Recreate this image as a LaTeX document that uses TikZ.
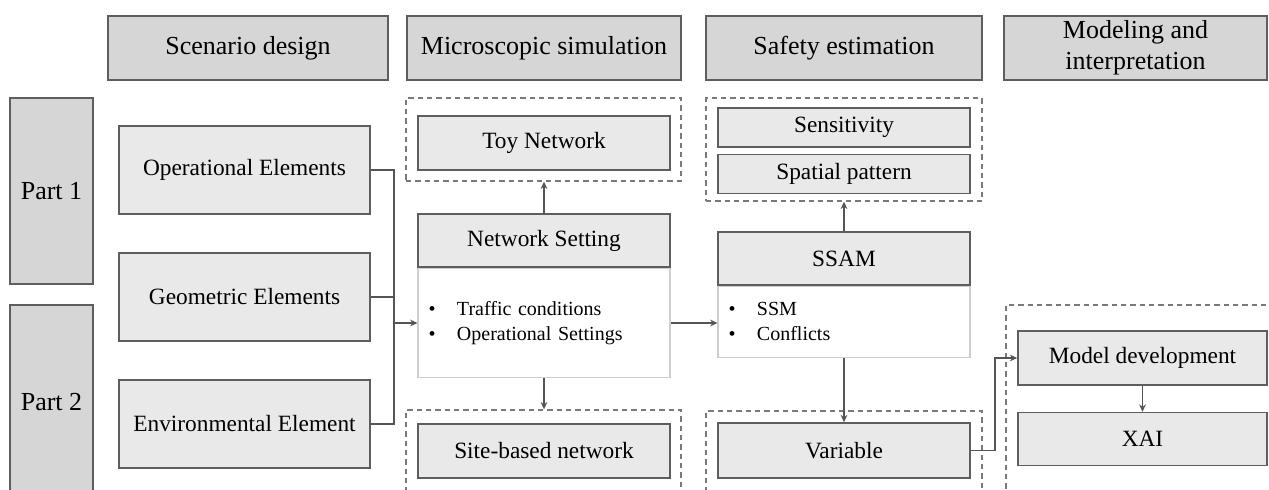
\documentclass[tikz,border=0pt]{standalone}
\usepackage{fontspec}
\setmainfont{Liberation Serif}
\usetikzlibrary{positioning,fit,arrows.meta}
\definecolor{headgray}{HTML}{D6D6D6}
\definecolor{boxgray}{HTML}{E9E9E9}
\definecolor{edgegray}{HTML}{5E5E5E}
\definecolor{thingray}{HTML}{CFCFCF}
\definecolor{dashgray}{HTML}{7A7A7A}
\definecolor{linkgray}{HTML}{555555}

\begin{document}
\begin{tikzpicture}[
    x=0.75pt, y=-0.75pt,
    node distance=0pt,
    >={Stealth[length=5.5pt,width=5pt]},
    head/.style={draw=edgegray, fill=headgray, line width=1.2pt, align=center, minimum height=48pt, font=\fontsize{19.5}{23}\selectfont},
    part/.style={draw=edgegray, fill=headgray, line width=1.2pt, minimum width=62.25pt, font=\fontsize{19.5}{23}\selectfont},
    box/.style={draw=edgegray, fill=boxgray, line width=1.2pt, minimum width=189pt, font=\fontsize{17.5}{21}\selectfont},
    body/.style={draw=thingray, fill=white, line width=0.8pt, minimum width=189pt, text width=173pt, inner xsep=8pt, align=left, font=\fontsize{15}{18.75}\selectfont},
    group/.style={draw=dashgray, dash pattern=on 4pt off 3pt, line width=1pt, inner sep=0pt},
    link/.style={draw=linkgray, line width=1.1pt}
]
\useasboundingbox (0,0) rectangle (1269,489);
\clip (0,0) rectangle (1269,489);

\node[head, minimum width=210pt] (scen) at (248,48) {Scenario design};
\node[head, minimum width=205.5pt] (micro) at (544,48) {Microscopic simulation};
\node[head, minimum width=207pt] (safe) at (844,48) {Safety estimation};
\node[head, minimum width=197.25pt] (model) at (1135.5,48) {Modeling and\\interpretation};

\node[part, minimum height=139.5pt] (part1) at (51.5,191) {Part 1};
\node[part, minimum height=145.5pt] (part2) at (51.5,402) {Part 2};

\node[box, minimum width=188.25pt, minimum height=66pt] (oper) at (244.5,170) {Operational Elements};
\node[box, minimum width=188.25pt, minimum height=66pt] (geom) at (244.5,297) {Geometric Elements};
\node[box, minimum width=188.25pt, minimum height=66pt] (envir) at (244.5,424) {Environmental Element};

\node[group, fit={(406,98) (681,181)}] (toygrp) {};
\node[box, minimum height=40.5pt] (toy) at (544,143) {Toy Network};
\node[body, minimum height=81.75pt] (netbody) at (544,323) {\textbullet\hspace{16pt}Traffic conditions\\ \textbullet\hspace{16pt}Operational Settings};
\node[box, minimum height=39.75pt, above=of netbody] (netset) {Network Setting};
\node[group, fit={(406,410) (681,520)}] (sitegrp) {};
\node[box, minimum height=40.5pt] (site) at (544,451) {Site-based network};

\node[group, fit={(706,98) (982,201)}] (safegrp) {};
\node[box, minimum height=29.25pt] (sens) at (844,127.5) {Sensitivity};
\node[box, minimum height=29.25pt, below=4.5pt of sens] (spat) {Spatial pattern};
\node[body, minimum height=53.25pt] (ssambody) at (844,321.75) {\textbullet\hspace{16pt}SSM\\ \textbullet\hspace{16pt}Conflicts};
\node[box, minimum height=39.75pt, above=of ssambody] (ssam) {SSAM};
\node[group, fit={(706,411) (982,520)}] (vargrp) {};
\node[box, minimum height=41.25pt] (variable) at (844,450.5) {Variable};

\node[group, fit={(1006,305) (1290,520)}] (modgrp) {};
\node[box, minimum width=186.75pt, minimum height=40.5pt] (moddev) at (1142.5,358) {Model development};
\node[box, minimum width=186.75pt, minimum height=39.75pt, below=19.5pt of moddev] (xai) {XAI};

\coordinate (join) at (394,323);
\draw[link] (oper.east) -| (join);
\draw[link] (envir.east) -| (join);
\draw[link] (geom.east) -- (geom.east -| join);
\draw[link,->] (join) -- (join -| netbody.west);
\draw[link,->] (netset.north) -- (netset.north |- toygrp.south);
\draw[link,->] (netbody.south) -- (netbody.south |- sitegrp.north);
\draw[link,->] (netbody.east |- join) -- (join -| ssambody.west);
\draw[link,->] (ssam.north) -- (ssam.north |- safegrp.south);
\draw[link,->] (ssambody.south) -- (variable.north);
\draw[link,->] (variable.east) -- ++(18pt,0) |- (moddev.west);
\draw[link,->] (moddev.south) -- (xai.north);

\end{tikzpicture}
\end{document}
